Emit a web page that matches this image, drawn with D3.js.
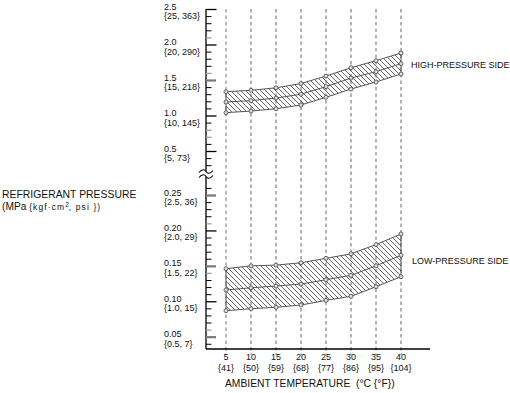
<!DOCTYPE html>
<html><head><meta charset="utf-8">
<script src="https://cdn.jsdelivr.net/npm/d3@7"></script>
<style>
html,body{margin:0;padding:0;background:#fff;}
svg{display:block;font-family:"Liberation Sans",Arial,Helvetica,sans-serif;}
</style></head>
<body>
<svg id="chart" width="510" height="393"></svg>
<script>
// ---- data ----
const tempsC = [5, 10, 15, 20, 25, 30, 35, 40];
const tempsF = ["{41}", "{50}", "{59}", "{68}", "{77}", "{86}", "{95}", "{104}"];

const highUpper  = [1.335, 1.355, 1.39, 1.45, 1.556, 1.673, 1.772, 1.88];
const highMiddle = [1.19, 1.21, 1.245, 1.30, 1.406, 1.528, 1.617, 1.73];
const highLower  = [1.04, 1.063, 1.095, 1.148, 1.256, 1.373, 1.472, 1.585];

const lowUpper  = [0.146, 0.150, 0.151, 0.1544, 0.1606, 0.167, 0.180, 0.195];
const lowMiddle = [0.116, 0.119, 0.1215, 0.1243, 0.1304, 0.1366, 0.150, 0.165];
const lowLower  = [0.0867, 0.0895, 0.0915, 0.0947, 0.1013, 0.107, 0.1205, 0.1347];

const highTickValues = [2.5, 2.0, 1.5, 1.0, 0.5];
const highTickLabels = ["{25, 363}", "{20, 290}", "{15, 218}", "{10, 145}", "{5, 73}"];
const highTickText   = ["2.5", "2.0", "1.5", "1.0", "0.5"];
const lowTickValues  = [0.25, 0.20, 0.15, 0.10, 0.05];
const lowTickText    = ["0.25", "0.20", "0.15", "0.10", "0.05"];
const lowTickLabels  = ["{2.5, 36}", "{2.0, 29}", "{1.5, 22}", "{1.0, 15}", "{0.5, 7}"];

const highMajorBlack = [2.5, 2.0, 1.0, 0.5];
const highMajorGray  = [1.5];
const highMinorGray  = [2.1, 1.6, 0.8, 0.7];
const highMinor = [2.4, 2.3, 2.2, 1.9, 1.8, 1.7, 1.4, 1.3, 1.2, 1.1, 0.9, 0.6, 0.4, 0.3];
const lowMajorBlack = [0.20, 0.10];
const lowMajorGray  = [0.25, 0.15, 0.05];
const lowMinorGray  = [0.21, 0.14, 0.06];
const lowMinor = [0.26, 0.24, 0.23, 0.22, 0.19, 0.18, 0.17, 0.16, 0.13, 0.12, 0.11, 0.09, 0.08, 0.07, 0.04];

// ---- drawing ----
const svg = d3.select("#chart");
const axisX = 206, axisBottom = 349, axisTop = 9, breakY = 174;

const x = d3.scaleLinear().domain([5, 40]).range([226, 401]);
const yHigh = d3.scaleLinear().domain([0, 2.5]).range([186.5, 9]);
const yLow = d3.scaleLinear().domain([0, 0.25]).range([372.1, 195]);

const defs = svg.append("defs");
const pat = defs.append("pattern").attr("id", "hatch")
  .attr("patternUnits", "userSpaceOnUse").attr("width", 5).attr("height", 5);
pat.append("path").attr("d", "M0,0 L5,5 M-1,4 L1,6 M4,-1 L6,1")
  .attr("stroke", "#333").attr("stroke-width", 0.75);

// dashed vertical grid lines
svg.append("g").selectAll("line").data(tempsC).join("line")
  .attr("x1", d => x(d)).attr("x2", d => x(d))
  .attr("y1", axisTop).attr("y2", axisBottom + 6)
  .attr("stroke", (d, i) => i === 0 ? "#aaa" : "#555")
  .attr("stroke-width", (d, i) => i === 0 ? 1.6 : 0.9)
  .attr("stroke-dasharray", "3.5,3");

function band(yScale, upper, middle, lower) {
  const g = svg.append("g");
  const pts = tempsC.map((t, i) => [x(t), yScale(upper[i])])
    .concat(tempsC.map((t, i) => [x(t), yScale(lower[i])]).reverse());
  g.append("path").attr("d", "M" + pts.join("L") + "Z")
    .attr("fill", "url(#hatch)").attr("stroke", "#555").attr("stroke-width", 1);
  const line = d3.line().x((d, i) => x(tempsC[i])).y(d => yScale(d));
  g.append("path").attr("d", line(middle)).attr("fill", "none")
    .attr("stroke", "#555").attr("stroke-width", 1);
  [upper, middle, lower].forEach(arr => {
    g.selectAll(null).data(arr).join("circle")
      .attr("cx", (d, i) => x(tempsC[i])).attr("cy", d => yScale(d)).attr("r", 2)
      .attr("fill", "#ddd").attr("stroke", "#444").attr("stroke-width", 0.8);
  });
}
band(yHigh, highUpper, highMiddle, highLower);
band(yLow, lowUpper, lowMiddle, lowLower);

// axes lines
svg.append("line").attr("x1", axisX).attr("x2", axisX).attr("y1", axisTop).attr("y2", axisBottom)
  .attr("stroke", "#000").attr("stroke-width", 1.3);
svg.append("line").attr("x1", axisX).attr("x2", 430).attr("y1", axisBottom).attr("y2", axisBottom)
  .attr("stroke", "#000").attr("stroke-width", 1.3);

// ticks
function ticks(scale, vals, len, color, width) {
  const ax = d3.axisRight(scale).tickValues(vals).tickSize(len).tickFormat("");
  const g = svg.append("g").attr("transform", `translate(${axisX},0)`).call(ax);
  g.select(".domain").remove();
  g.selectAll(".tick line").attr("stroke", color).attr("stroke-width", width);
}
ticks(yHigh, highMinor, 5.5, "#000", 1);
ticks(yHigh, highMinorGray, 5.5, "#999", 1.2);
ticks(yHigh, highMajorBlack, 10.5, "#000", 1.3);
ticks(yHigh, highMajorGray, 10, "#777", 2.2);
ticks(yLow, lowMinor, 5.5, "#000", 1);
ticks(yLow, lowMinorGray, 5.5, "#999", 1.2);
ticks(yLow, lowMajorBlack, 10.5, "#000", 1.3);
ticks(yLow, lowMajorGray, 10, "#777", 2.2);

// axis break symbol
svg.append("rect").attr("x", axisX - 2).attr("y", breakY - 3).attr("width", 4).attr("height", 6).attr("fill", "#fff");
[breakY - 2.5, breakY + 2.5].forEach(yy => {
  svg.append("path")
    .attr("d", `M${axisX - 7},${yy + 1} C${axisX - 4},${yy - 3} ${axisX - 1},${yy - 2} ${axisX},${yy} S${axisX + 4},${yy + 3} ${axisX + 7},${yy - 1}`)
    .attr("fill", "none").attr("stroke", "#000").attr("stroke-width", 1.1);
});

// y tick labels
function ylabels(scale, vals, top, bottom) {
  const g = svg.append("g").attr("font-size", 9).attr("fill", "#111");
  vals.forEach((v, i) => {
    g.append("text").attr("x", 164).attr("y", scale(v) + 0.5).text(top[i]);
    g.append("text").attr("x", 164).attr("y", scale(v) + 10).text(bottom[i]);
  });
}
ylabels(yHigh, highTickValues, highTickText, highTickLabels);
ylabels(yLow, lowTickValues, lowTickText, lowTickLabels);

// x tick labels
const xg = svg.append("g").attr("font-size", 9).attr("fill", "#111").attr("text-anchor", "middle");
tempsC.forEach((t, i) => {
  xg.append("text").attr("x", x(t)).attr("y", 359.5).text(t);
  xg.append("text").attr("x", x(t)).attr("y", 370.5).text(tempsF[i]);
});

// titles
svg.append("text").attr("x", 225).attr("y", 387).attr("font-size", 10.3).attr("fill", "#111")
  .attr("xml:space", "preserve").style("white-space", "pre")
  .text("AMBIENT TEMPERATURE  (°C {°F})");
svg.append("text").attr("x", 2).attr("y", 198).attr("font-size", 10.4).attr("fill", "#111")
  .text("REFRIGERANT PRESSURE");
const t2 = svg.append("text").attr("x", 2).attr("y", 210).attr("font-size", 10.2).attr("fill", "#111");
t2.append("tspan").text("(MPa ");
t2.append("tspan").attr("font-size", 8.5).attr("letter-spacing", 1.1).text("{kgf·cm");
t2.append("tspan").attr("font-size", 6.5).attr("dy", -3.5).text("2");
t2.append("tspan").attr("font-size", 8.5).attr("dy", 3.5).attr("letter-spacing", 1.1).text(", psi })");

svg.append("text").attr("x", 411).attr("y", 67.5).attr("font-size", 9).attr("fill", "#111").text("HIGH-PRESSURE SIDE");
svg.append("text").attr("x", 412).attr("y", 264).attr("font-size", 9).attr("fill", "#111").text("LOW-PRESSURE SIDE");
</script>
</body></html>
